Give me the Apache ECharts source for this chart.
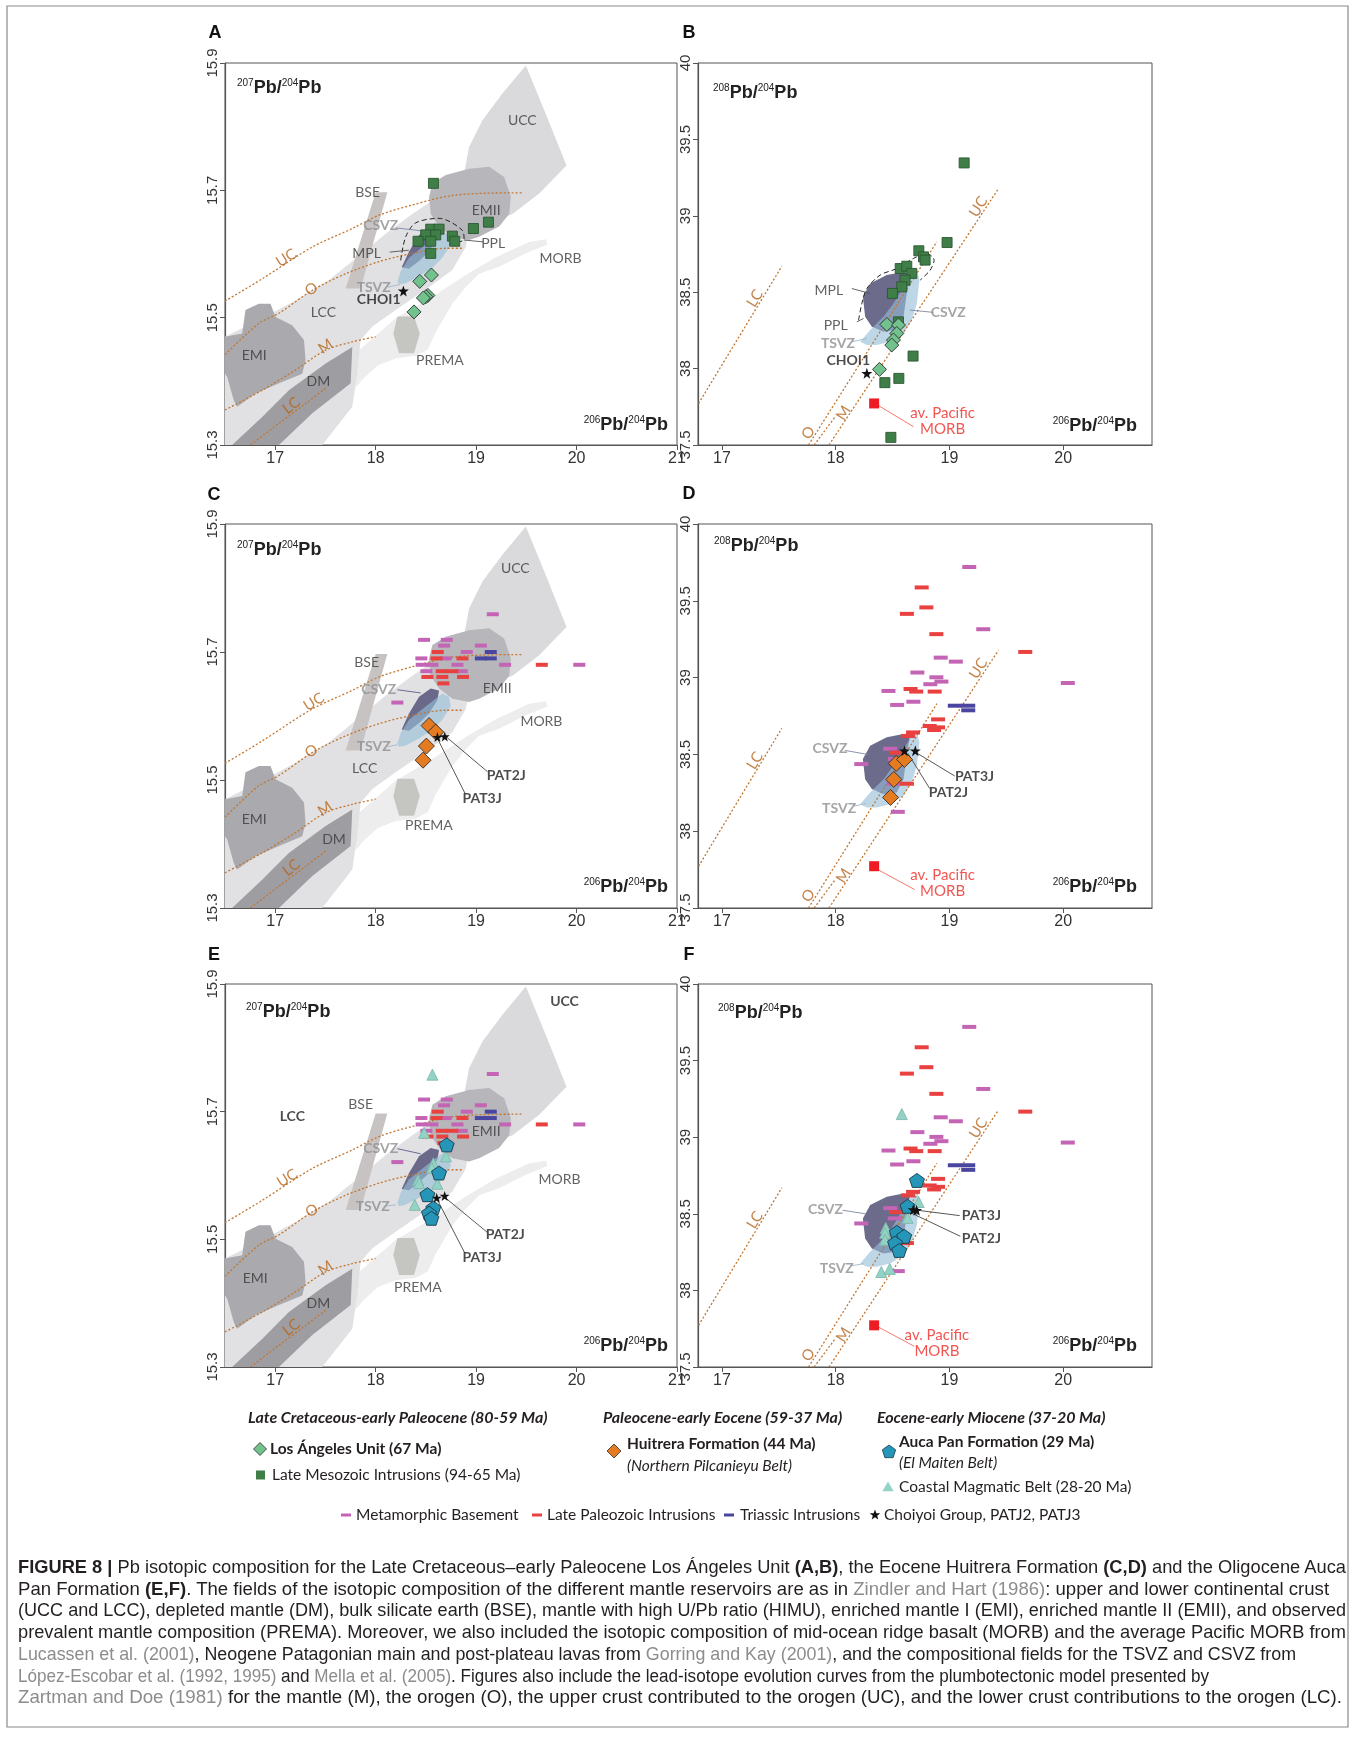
<!DOCTYPE html>
<html>
<head>
<meta charset="UTF-8">
<title>FIGURE 8 | Pb isotopic composition</title>
<script src="https://cdn.jsdelivr.net/npm/echarts@6.0.0/dist/echarts.min.js"></script>
<style>
  body { margin: 0; background: #fff; }
  #wrap { position: relative; width: 1360px; height: 1739px; }
  #chart { position: absolute; left: 0; top: 0; width: 1360px; height: 1739px; }
  #caption { position: absolute; left: 18px; top: 1556px; font-family: "Liberation Sans", Arial, sans-serif; color: #231f20; line-height: 21.7px; white-space: nowrap; }
  #caption .ln { display: inline-block; transform-origin: 0 50%; }
  #caption .ref { color: #8c8c8c; }
</style>
</head>
<body>
<div id="wrap">
  <div id="chart"></div>
  <div id="caption"></div>
</div>
<script>
// axis ranges and ticks
var xRange207 = [16.5, 21], yRange207 = [15.3, 15.9];
var xRange208 = [16.79, 20.78], yRange208 = [37.5, 40];
var xTicks207 = [17, 18, 19, 20, 21], yTicks207 = [15.3, 15.5, 15.7, 15.9];
var xTicks208 = [17, 18, 19, 20], yTicks208 = [37.5, 38, 38.5, 39, 39.5, 40];

// reservoir fields, 207Pb/204Pb vs 206Pb/204Pb
var fMORB = [[17.834,15.449],[18.199,15.499],[18.565,15.533],[18.897,15.567],[19.196,15.595],[19.528,15.619],[19.694,15.623],[19.711,15.615],[19.495,15.601],[19.229,15.580],[19.030,15.569],[18.897,15.548],[18.764,15.522],[18.60,15.478],[18.52,15.450],[18.40,15.440],[18.20,15.436],[18.02,15.425],[17.88,15.405],[17.80,15.39]];
var fLCC = [[16.5,15.470],[16.870,15.499],[17.203,15.527],[17.535,15.559],[17.867,15.601],[18.100,15.632],[18.365,15.663],[18.565,15.684],[18.764,15.697],[18.930,15.700],[18.947,15.653],[18.897,15.611],[18.764,15.575],[18.532,15.548],[18.199,15.512],[17.967,15.486],[17.850,15.465],[17.817,15.412],[17.767,15.360],[17.468,15.3],[16.5,15.3]];
var fUCC = [[18.880,15.726],[18.930,15.768],[19.063,15.810],[19.262,15.852],[19.495,15.896],[19.694,15.820],[19.900,15.739],[19.628,15.695],[19.362,15.663],[19.030,15.643],[18.880,15.684]];
var fEMII = [[18.565,15.711],[18.698,15.724],[18.930,15.734],[19.130,15.737],[19.279,15.721],[19.346,15.690],[19.329,15.663],[19.229,15.643],[19.030,15.627],[18.930,15.622],[18.764,15.627],[18.631,15.643],[18.548,15.663],[18.532,15.690]];
var fEMI = [[16.5,15.470],[16.671,15.475],[16.704,15.512],[16.837,15.522],[16.953,15.522],[17.003,15.501],[17.169,15.488],[17.286,15.465],[17.302,15.433],[17.269,15.412],[17.037,15.397],[16.804,15.381],[16.621,15.360],[16.588,15.370],[16.522,15.407],[16.5,15.412]];
var fDM = [[16.571,15.3],[17.037,15.3],[17.369,15.350],[17.751,15.397],[17.767,15.454],[17.502,15.428],[17.136,15.386],[16.870,15.344]];
var fBSE = [[18.0,15.697],[18.116,15.697],[17.85,15.546],[17.701,15.546]];
var fPREMA = [[18.216,15.502],[18.382,15.502],[18.439,15.475],[18.382,15.444],[18.233,15.444],[18.176,15.475]];
var fCSVZ207 = [[18.259,15.579],[18.332,15.604],[18.432,15.630],[18.548,15.643],[18.631,15.640],[18.615,15.625],[18.532,15.604],[18.432,15.589],[18.332,15.577]];
var fTSVZ207 = [[18.216,15.557],[18.249,15.573],[18.332,15.594],[18.498,15.615],[18.664,15.635],[18.731,15.630],[18.748,15.615],[18.664,15.594],[18.565,15.578],[18.432,15.565],[18.299,15.554],[18.233,15.552]];
// fields, 208Pb/204Pb vs 206Pb/204Pb
var fCSVZ208 = [[18.239,38.470],[18.303,38.557],[18.449,38.612],[18.596,38.633],[18.654,38.622],[18.625,38.492],[18.596,38.339],[18.537,38.252],[18.420,38.241],[18.318,38.274],[18.259,38.339]];
var fTSVZ208 = [[18.215,38.176],[18.303,38.252],[18.420,38.339],[18.508,38.426],[18.596,38.535],[18.669,38.622],[18.713,38.644],[18.736,38.579],[18.713,38.426],[18.669,38.317],[18.596,38.230],[18.479,38.176],[18.362,38.154],[18.274,38.154]];
var pplA = [[18.249,15.590],[18.299,15.627],[18.399,15.649],[18.631,15.656],[18.864,15.637],[18.880,15.623],[18.731,15.616]];
var pplB = [[18.201,38.317],[18.230,38.426],[18.274,38.524],[18.391,38.612],[18.537,38.655],[18.684,38.721],[18.801,38.753],[18.865,38.710],[18.83,38.644],[18.742,38.579]];

// Zartman & Doe evolution curves
var curveUC207 = [[16.5,15.526],[16.870,15.561],[17.369,15.611],[17.767,15.640],[18.033,15.661],[18.365,15.677],[18.764,15.692],[19.362,15.696],[19.462,15.696]];
var curveO207 = [[16.5,15.442],[16.837,15.491],[17.037,15.507],[17.369,15.543],[17.701,15.569],[18.033,15.588],[18.365,15.601],[18.698,15.609],[18.864,15.609]];
var curveM207 = [[16.5,15.355],[16.870,15.386],[17.203,15.418],[17.502,15.449],[17.767,15.462],[18.0,15.470]];
var curveLC207 = [[16.754,15.3],[17.037,15.334],[17.302,15.365],[17.518,15.391]];
var lineLC208 = [[16.795,37.772],[17.527,38.67]];
var lineO208 = [[17.761,37.5],[18.889,38.83]];
var lineO2208 = [[17.811,37.5],[17.996,37.685]];
var lineUC208 = [[17.941,37.5],[19.431,39.178]];

// samples
var lateMesoA = [[18.575,15.711],[19.123,15.650],[18.973,15.640],[18.548,15.639],[18.631,15.639],[18.498,15.630],[18.598,15.630],[18.764,15.628],[18.422,15.620],[18.548,15.620],[18.787,15.620],[18.548,15.601]];
var lateMesoB = [[19.129,39.346],[18.979,38.825],[18.731,38.771],[18.772,38.731],[18.786,38.710],[18.567,38.655],[18.625,38.670],[18.669,38.623],[18.61,38.579],[18.581,38.535],[18.499,38.492],[18.552,38.306],[18.68,38.082],[18.555,37.936],[18.432,37.908],[18.485,37.55]];
var losAngelesA = [[18.555,15.567],[18.439,15.557],[18.52,15.535],[18.50,15.533],[18.475,15.531],[18.382,15.509]];
var losAngelesB = [[18.45,38.289],[18.552,38.285],[18.537,38.23],[18.508,38.187],[18.493,38.154],[18.385,37.995]];
var choiA = [[18.276,15.542]], choiB = [[18.274,37.969]];
var huitreraC = [[18.532,15.585],[18.598,15.575],[18.505,15.553],[18.472,15.531]];
var huitreraD = [[18.532,38.441],[18.605,38.467],[18.511,38.337],[18.482,38.22]];
var patC = [[18.615,15.567],[18.688,15.568]], patD = [[18.605,38.524],[18.700,38.524]];
var patE = [[18.608,15.565],[18.687,15.568]], patF = [[18.682,38.527],[18.711,38.523]];
var aucaE = [[18.707,15.648],[18.631,15.604],[18.515,15.570],[18.574,15.549],[18.531,15.541],[18.555,15.533]];
var aucaF = [[18.714,38.718],[18.632,38.549],[18.537,38.379],[18.602,38.353],[18.522,38.309],[18.558,38.261]];
var coastalE = [[18.565,15.758],[18.482,15.667],[18.700,15.630],[18.574,15.619],[18.560,15.612],[18.422,15.593],[18.432,15.588],[18.614,15.587],[18.389,15.554]];
var coastalF = [[18.581,39.151],[18.729,38.577],[18.632,38.473],[18.44,38.407],[18.434,38.375],[18.434,38.331],[18.401,38.12],[18.475,38.14]];
var pacificMORB = [[18.338,37.772]];
var metaBase207 = [[19.166,15.759],[18.482,15.719],[18.708,15.719],[18.681,15.710],[19.047,15.710],[18.907,15.700],[18.455,15.690],[18.698,15.690],[18.458,15.680],[18.565,15.680],[18.814,15.680],[19.289,15.680],[20.027,15.680],[18.505,15.670],[18.857,15.670],[18.216,15.621]];
var latePaleo207 = [[18.618,15.700],[18.605,15.690],[18.864,15.690],[18.658,15.670],[18.764,15.670],[18.515,15.661],[18.664,15.661],[18.870,15.661],[18.674,15.651],[19.654,15.680]];
var triassic207 = [[19.146,15.700],[19.047,15.690],[19.146,15.690]];
var metaBase208 = [[19.174,39.720],[19.297,39.315],[18.923,39.130],[19.056,39.104],[18.718,39.033],[18.885,39.002],[18.929,38.974],[18.832,38.957],[18.464,38.913],[18.683,38.843],[18.540,38.822],[20.040,38.965],[18.479,38.537],[18.52,38.47],[18.225,38.437],[18.508,38.309],[18.546,38.126]];
var latePaleo208 = [[18.756,39.587],[18.797,39.457],[18.626,39.415],[18.885,39.283],[19.666,39.167],[18.658,38.926],[18.708,38.909],[18.870,38.909],[18.900,38.728],[18.826,38.685],[18.900,38.676],[18.865,38.659],[18.680,38.643],[18.635,38.620],[18.532,38.511],[18.626,38.309]];
var triassic208 = [[19.047,38.817],[19.165,38.817],[19.165,38.787]];

// text labels: x, y, text, style, rotation
var curveLabels208 = [[17.29,38.46,'LC','c',58],[19.255,39.06,'UC','c',58],[17.76,37.58,'O','c',58],[18.07,37.71,'M','c',58]];
var labelsA = [[19.46,15.810,'UCC','n'],[17.92,15.697,'BSE','n'],[19.10,15.669,'EMII','n'],[18.05,15.645,'CSVZ','g'],[17.91,15.601,'MPL','n'],[19.17,15.617,'PPL','n'],[19.84,15.593,'MORB','n'],[17.98,15.548,'TSVZ','g'],[18.03,15.528,'CHOI1','b'],[17.48,15.508,'LCC','n'],[16.79,15.440,'EMI','n'],[17.43,15.399,'DM','n'],[18.64,15.432,'PREMA','n'],[17.11,15.594,'UC','c',32],[17.36,15.545,'O','c',35],[17.50,15.455,'M','c',34],[17.16,15.362,'LC','c',38]];
var labelsB = [[17.94,38.514,'MPL','n'],[18.00,38.285,'PPL','n'],[18.02,38.165,'TSVZ','g'],[18.99,38.368,'CSVZ','g'],[18.11,38.05,'CHOI1','b'],[18.94,37.711,'av. Pacific','r'],[18.94,37.602,'MORB','r']].concat(curveLabels208);
var labelsC = [[19.39,15.831,'UCC','n'],[17.91,15.683,'BSE','n'],[18.03,15.642,'CSVZ','g'],[19.21,15.643,'EMII','n'],[19.65,15.592,'MORB','n'],[17.98,15.552,'TSVZ','g'],[17.89,15.518,'LCC','n'],[16.79,15.439,'EMI','n'],[17.585,15.407,'DM','n'],[18.53,15.429,'PREMA','n'],[19.30,15.507,'PAT2J','b'],[19.06,15.471,'PAT3J','b'],[17.385,15.622,'UC','c',32],[17.36,15.545,'O','c',35],[17.495,15.455,'M','c',34],[17.16,15.363,'LC','c',38]];
var labelsD = [[17.95,38.537,'CSVZ','g'],[18.03,38.148,'TSVZ','g'],[19.22,38.359,'PAT3J','b'],[18.99,38.254,'PAT2J','b'],[18.94,37.717,'av. Pacific','r'],[18.94,37.609,'MORB','r']].concat(curveLabels208);
var labelsE = [[19.88,15.873,'UCC','b'],[17.17,15.693,'LCC','b'],[17.85,15.711,'BSE','n'],[19.10,15.669,'EMII','n'],[18.05,15.642,'CSVZ','g'],[19.83,15.593,'MORB','n'],[17.97,15.551,'TSVZ','g'],[16.80,15.439,'EMI','n'],[17.43,15.400,'DM','n'],[18.42,15.425,'PREMA','n'],[19.29,15.507,'PAT2J','b'],[19.06,15.472,'PAT3J','b'],[17.12,15.596,'UC','c',32],[17.365,15.545,'O','c',35],[17.50,15.455,'M','c',34],[17.16,15.362,'LC','c',38]];
var labelsF = [[17.91,38.527,'CSVZ','g'],[18.01,38.144,'TSVZ','g'],[19.28,38.488,'PAT3J','b'],[19.28,38.342,'PAT2J','b'],[18.89,37.711,'av. Pacific','r'],[18.89,37.602,'MORB','r']].concat(curveLabels208);

// leader lines: x1, y1, x2, y2, colour
var leadersA = [[18.20,15.641,18.48,15.636,'#7d88a6'],[18.14,15.603,18.33,15.606,'#555'],[19.07,15.619,18.88,15.622,'#555'],[18.12,15.548,18.24,15.552,'#9fb8cc']];
var leadersB = [[18.142,38.524,18.303,38.492,'#555'],[18.186,38.306,18.245,38.328,'#555'],[18.142,38.176,18.274,38.197,'#9fb8cc'],[18.859,38.368,18.654,38.383,'#7d88a6'],[18.367,37.762,18.684,37.620,'#f06a60']];
var leadersC = [[18.216,15.641,18.449,15.636,'#5d5f8a'],[18.116,15.552,18.216,15.555,'#9fb8cc'],[18.698,15.568,19.113,15.513,'#444'],[18.618,15.564,18.890,15.479,'#444']];
var leadersD = [[18.081,38.526,18.281,38.50,'#7d88a6'],[18.155,38.163,18.267,38.18,'#9fb8cc'],[18.708,38.511,19.047,38.359,'#444'],[18.635,38.507,18.826,38.278,'#444'],[18.370,37.750,18.694,37.620,'#f06a60']];
var leadersE = [[18.216,15.642,18.448,15.634,'#5d5f8a'],[18.100,15.552,18.200,15.554,'#9fb8cc'],[18.687,15.566,19.111,15.511,'#444'],[18.614,15.562,18.886,15.479,'#444']];
var leadersF = [[18.061,38.523,18.262,38.50,'#7d88a6'],[18.138,38.161,18.247,38.174,'#9fb8cc'],[18.720,38.523,19.090,38.488,'#444'],[18.661,38.506,19.096,38.353,'#444'],[18.375,37.761,18.691,37.635,'#f06a60']];

var captionLines = [
  '**FIGURE 8 |** Pb isotopic composition for the Late Cretaceous–early Paleocene Los Ángeles Unit **(A,B)**, the Eocene Huitrera Formation **(C,D)** and the Oligocene Auca',
  'Pan Formation **(E,F)**. The fields of the isotopic composition of the different mantle reservoirs are as in [[Zindler and Hart (1986)]]: upper and lower continental crust',
  '(UCC and LCC), depleted mantle (DM), bulk silicate earth (BSE), mantle with high U/Pb ratio (HIMU), enriched mantle I (EMI), enriched mantle II (EMII), and observed',
  'prevalent mantle composition (PREMA). Moreover, we also included the isotopic composition of mid-ocean ridge basalt (MORB) and the average Pacific MORB from',
  '[[Lucassen et al. (2001)]], Neogene Patagonian main and post-plateau lavas from [[Gorring and Kay (2001)]], and the compositional fields for the TSVZ and CSVZ from',
  '[[López-Escobar et al. (1992, 1995)]] and [[Mella et al. (2005)]]. Figures also include the lead-isotope evolution curves from the plumbotectonic model presented by',
  '[[Zartman and Doe (1981)]] for the mantle (M), the orogen (O), the upper crust contributed to the orogen (UC), and the lower crust contributions to the orogen (LC).'
];
var captionWidths = [1328, 1311, 1328, 1328, 1278, 1191, 1324];

var STAR = 'path://M50 0 L61.8 35.1 L98.6 35.3 L69 57.3 L79.4 92.7 L50 71.5 L20.6 92.7 L31 57.3 L1.4 35.3 L38.2 35.1 Z';
var PENT = 'path://M50 0 L97.6 34.5 L79.4 90.5 L20.6 90.5 L2.4 34.5 Z';

var fields207 = [[fMORB,'#ededee'],[fLCC,'#e1e1e3'],[fUCC,'#dadadd'],[fEMII,'#b6b6bb'],[fEMI,'#a9a9ae'],[fDM,'#9d9da2'],[fBSE,'#c8c3c3'],[fPREMA,'#c5c5c2'],[fCSVZ207,'rgba(96,94,130,0.92)'],[fTSVZ207,'rgba(150,190,216,0.62)']];
var fields208 = [[fCSVZ208,'rgba(96,94,130,0.92)'],[fTSVZ208,'rgba(150,190,216,0.62)']];
var curves207 = [curveUC207, curveO207, curveM207, curveLC207];
var lines208 = [lineLC208, lineO208, lineO2208, lineUC208];

var grids = [
  {left: 225, top: 63, width: 452, height: 382},
  {left: 698, top: 63, width: 454, height: 382},
  {left: 225, top: 524, width: 452, height: 384},
  {left: 698, top: 524, width: 454, height: 384},
  {left: 225, top: 984, width: 452, height: 383},
  {left: 698, top: 984, width: 454, height: 383}
];
var kinds = [207, 208, 207, 208, 207, 208];

function xAxisFor(i) {
  var is7 = kinds[i] === 207;
  var r = is7 ? xRange207 : xRange208, t = is7 ? xTicks207 : xTicks208;
  return {type: 'value', gridIndex: i, min: r[0], max: r[1], splitLine: {show: false},
    axisLine: {onZero: false, lineStyle: {color: '#555', width: 1.2}},
    axisTick: {customValues: t, length: 5, lineStyle: {color: '#555'}},
    axisLabel: {customValues: t, color: '#333', fontSize: 16, fontFamily: 'Liberation Sans', margin: 6}};
}
function yAxisFor(i) {
  var is7 = kinds[i] === 207;
  var r = is7 ? yRange207 : yRange208, t = is7 ? yTicks207 : yTicks208;
  return {type: 'value', gridIndex: i, min: r[0], max: r[1], splitLine: {show: false},
    axisLine: {onZero: false, lineStyle: {color: '#555', width: 1.2}},
    axisTick: {customValues: t, length: 5, lineStyle: {color: '#555'}},
    axisLabel: {customValues: t, color: '#333', fontSize: 15, fontFamily: 'Liberation Sans', rotate: 90, margin: 5}};
}

function fieldSeries(p, list) {
  return {type: 'custom', xAxisIndex: p, yAxisIndex: p, silent: true, z: 1, clip: true,
    data: list.map(function (f, i) { return [f[0][0][0], f[0][0][1], i]; }),
    renderItem: function (params, api) {
      var f = list[api.value(2)];
      return {type: 'polygon', shape: {points: f[0].map(function (pt) { return api.coord(pt); })}, style: {fill: f[1]}};
    }};
}
function curveSeries(p, pts, smooth) {
  return {type: 'line', xAxisIndex: p, yAxisIndex: p, data: pts, symbol: 'none', smooth: smooth ? 0.3 : false,
    silent: true, z: 3, lineStyle: {color: '#c27630', width: 1.3, type: [2, 2]}};
}
function outlineSeries(p, pts) {
  return {type: 'line', xAxisIndex: p, yAxisIndex: p, data: pts, symbol: 'none', smooth: 0.3,
    silent: true, z: 3, lineStyle: {color: '#222', width: 1, type: [5, 3]}};
}
function segSeries(p, segs) {
  return {type: 'custom', xAxisIndex: p, yAxisIndex: p, silent: true, z: 4, clip: true,
    data: segs.map(function (s, i) { return [s[0], s[1], i]; }),
    renderItem: function (params, api) {
      var s = segs[api.value(2)];
      var a = api.coord([s[0], s[1]]), b = api.coord([s[2], s[3]]);
      return {type: 'line', shape: {x1: a[0], y1: a[1], x2: b[0], y2: b[1]}, style: {stroke: s[4], lineWidth: 0.9}};
    }};
}
function markSeries(p, pts, symbol, size, color, border, z) {
  var st = {color: color, opacity: 1};
  if (border) { st.borderColor = border; st.borderWidth = 0.9; }
  return {type: 'scatter', xAxisIndex: p, yAxisIndex: p, data: pts, symbol: symbol, symbolSize: size,
    silent: true, z: z || 6, itemStyle: st};
}
var styleMap = {
  n: {color: '#3a3a3a', fontSize: 14, fontWeight: 'normal'},
  g: {color: '#8f8f8f', fontSize: 14, fontWeight: 'bold'},
  b: {color: '#1e1e1e', fontSize: 14, fontWeight: 'bold'},
  r: {color: '#ee2b25', fontSize: 15, fontWeight: 'normal'},
  c: {color: '#b5651d', fontSize: 15, fontWeight: 'normal'}
};
function labelSeries(p, arr) {
  return {type: 'scatter', xAxisIndex: p, yAxisIndex: p, symbolSize: 1, silent: true, z: 9,
    itemStyle: {color: 'rgba(0,0,0,0)'},
    data: arr.map(function (l) {
      var s = styleMap[l[3]];
      return {value: [l[0], l[1]], name: l[2], label: {show: true, position: 'inside', formatter: '{b}',
        fontFamily: 'Lato', color: s.color, fontSize: s.fontSize, fontWeight: s.fontWeight, rotate: l[4] || 0}};
    })};
}
function dashes(p, m, r, b, w) {
  return [markSeries(p, m, 'rect', [w, 4], '#c464b5', null, 5),
          markSeries(p, r, 'rect', [w, 4], '#e8413f', null, 5),
          markSeries(p, b, 'rect', [w, 4], '#4a46a0', null, 5)];
}

var series = [];
function base(p) {
  if (kinds[p] === 207) {
    series.push(fieldSeries(p, fields207));
    curves207.forEach(function (c) { series.push(curveSeries(p, c, true)); });
  } else {
    series.push(fieldSeries(p, fields208));
    lines208.forEach(function (c) { series.push(curveSeries(p, c, false)); });
    series.push(markSeries(p, pacificMORB, 'rect', 10, '#ee1c24', null, 6));
  }
}
// A
base(0);
series.push(outlineSeries(0, pplA), segSeries(0, leadersA));
series.push(markSeries(0, lateMesoA, 'rect', 10, '#3f7e47', '#2b5732', 6));
series.push(markSeries(0, losAngelesA, 'diamond', 14, '#72c28d', '#2d2d2d', 7));
series.push(markSeries(0, choiA, STAR, 11, '#111', null, 8));
series.push(labelSeries(0, labelsA));
// B
base(1);
series.push(outlineSeries(1, pplB), segSeries(1, leadersB));
series.push(markSeries(1, lateMesoB, 'rect', 10, '#3f7e47', '#2b5732', 6));
series.push(markSeries(1, losAngelesB, 'diamond', 14, '#72c28d', '#2d2d2d', 7));
series.push(markSeries(1, choiB, STAR, 11, '#111', null, 8));
series.push(labelSeries(1, labelsB));
// C
base(2);
series.push(segSeries(2, leadersC));
series = series.concat(dashes(2, metaBase207, latePaleo207, triassic207, 12));
series.push(markSeries(2, huitreraC, 'diamond', 16, '#e57b20', '#2d2d2d', 7));
series.push(markSeries(2, patC, STAR, 10, '#111', null, 8));
series.push(labelSeries(2, labelsC));
// D
base(3);
series.push(segSeries(3, leadersD));
series = series.concat(dashes(3, metaBase208, latePaleo208, triassic208, 14));
series.push(markSeries(3, huitreraD, 'diamond', 16, '#e57b20', '#2d2d2d', 7));
series.push(markSeries(3, patD, STAR, 11, '#111', null, 8));
series.push(labelSeries(3, labelsD));
// E
base(4);
series.push(segSeries(4, leadersE));
series = series.concat(dashes(4, metaBase207, latePaleo207, triassic207, 12));
series.push(markSeries(4, coastalE, 'triangle', 11, '#93d3c6', '#7fb8ad', 6));
series.push(markSeries(4, aucaE, PENT, [15, 14], '#2596b8', '#1b3a4a', 7));
series.push(markSeries(4, patE, STAR, 10, '#111', null, 8));
series.push(labelSeries(4, labelsE));
// F
base(5);
series.push(segSeries(5, leadersF));
series = series.concat(dashes(5, metaBase208, latePaleo208, triassic208, 14));
series.push(markSeries(5, coastalF, 'triangle', 11, '#93d3c6', '#7fb8ad', 6));
series.push(markSeries(5, aucaF, PENT, [15, 14], '#2596b8', '#1b3a4a', 7));
series.push(markSeries(5, patF, STAR, 11, '#111', null, 8));
series.push(labelSeries(5, labelsF));

// static graphics: frame, panel letters, axis names, legend
var gfx = [];
gfx.push({type: 'rect', shape: {x: 7, y: 6, width: 1341, height: 1721}, style: {fill: 'none', stroke: '#8a8a8a', lineWidth: 1.2}, z: 0});
[['A', 215, 33], ['B', 689, 33], ['C', 214, 495], ['D', 689, 494], ['E', 214, 955], ['F', 689, 955]].forEach(function (l) {
  gfx.push({type: 'text', x: l[1], y: l[2], style: {text: l[0], font: 'bold 18px "Liberation Sans"', fill: '#111', textAlign: 'center', textVerticalAlign: 'middle', verticalAlign: 'middle'}});
});
function pbName(x, y, sup, align) {
  return {type: 'text', x: x, y: y, z: 60, style: {text: '{s|' + sup + '}{b|Pb/}{s|204}{b|Pb}', textAlign: align,
    textVerticalAlign: 'middle', verticalAlign: 'middle',
    rich: {s: {fontSize: 10, fontFamily: 'Liberation Sans', fill: '#222', verticalAlign: 'top', lineHeight: 12},
           b: {fontSize: 18, fontWeight: 'bold', fontFamily: 'Liberation Sans', fill: '#222', lineHeight: 20}}}};
}
gfx.push(pbName(237, 88, '207', 'left'), pbName(668, 425, '206', 'right'));
gfx.push(pbName(713, 93, '208', 'left'), pbName(1137, 426, '206', 'right'));
gfx.push(pbName(237, 550, '207', 'left'), pbName(668, 887, '206', 'right'));
gfx.push(pbName(714, 546, '208', 'left'), pbName(1137, 887, '206', 'right'));
gfx.push(pbName(246, 1012, '207', 'left'), pbName(668, 1346, '206', 'right'));
gfx.push(pbName(718, 1013, '208', 'left'), pbName(1137, 1346, '206', 'right'));

function legText(x, y, t, st, size) {
  return {type: 'text', x: x, y: y, style: {text: t, font: (st || '') + ' ' + (size || 15.5) + 'px Lato', fill: '#231f20', textAlign: 'left', textVerticalAlign: 'middle', verticalAlign: 'middle'}};
}
function regular(cx, cy, r, n, rot, fill, stroke) {
  var pts = [];
  for (var k = 0; k < n; k++) { var a = rot + k * 2 * Math.PI / n; pts.push([cx + r * Math.cos(a), cy + r * Math.sin(a)]); }
  return {type: 'polygon', shape: {points: pts}, style: {fill: fill, stroke: stroke || null, lineWidth: 0.8}};
}
function starAt(cx, cy, r) {
  var pts = [];
  for (var k = 0; k < 10; k++) { var a = -Math.PI / 2 + k * Math.PI / 5, rr = k % 2 ? r * 0.42 : r; pts.push([cx + rr * Math.cos(a), cy + rr * Math.sin(a)]); }
  return {type: 'polygon', shape: {points: pts}, style: {fill: '#111'}};
}
gfx.push(legText(248, 1418, 'Late Cretaceous-early Paleocene (80-59 Ma)', 'italic bold', 16));
gfx.push(legText(603, 1418, 'Paleocene-early Eocene (59-37 Ma)', 'italic bold', 16));
gfx.push(legText(877, 1418, 'Eocene-early Miocene (37-20 Ma)', 'italic bold', 16));
gfx.push(regular(260, 1449, 6.5, 4, 0, '#72c28d', '#2d2d2d'), legText(270, 1449, 'Los Ángeles Unit (67 Ma)', 'bold'));
gfx.push({type: 'rect', shape: {x: 256, y: 1470.5, width: 9, height: 9}, style: {fill: '#3f7e47'}}, legText(272, 1475, 'Late Mesozoic Intrusions (94-65 Ma)'));
gfx.push(regular(614, 1451, 7, 4, 0, '#e57b20', '#2d2d2d'), legText(627, 1444, 'Huitrera Formation (44 Ma)', 'bold'), legText(627, 1466, '(Northern Pilcanieyu Belt)', 'italic'));
gfx.push(regular(889, 1452, 7, 5, -Math.PI / 2, '#2596b8', '#1b3a4a'), legText(899, 1442, 'Auca Pan Formation (29 Ma)', 'bold'), legText(899, 1463, '(El Maiten Belt)', 'italic'));
gfx.push(regular(888, 1488, 6.5, 3, -Math.PI / 2, '#93d3c6'), legText(899, 1487, 'Coastal Magmatic Belt (28-20 Ma)'));
gfx.push({type: 'rect', shape: {x: 341, y: 1513.5, width: 10, height: 3}, style: {fill: '#c464b5'}}, legText(356, 1515, 'Metamorphic Basement'));
gfx.push({type: 'rect', shape: {x: 532, y: 1513.5, width: 10, height: 3}, style: {fill: '#e8413f'}}, legText(547, 1515, 'Late Paleozoic Intrusions'));
gfx.push({type: 'rect', shape: {x: 724, y: 1513.5, width: 10, height: 3}, style: {fill: '#4a46a0'}}, legText(740, 1515, 'Triassic Intrusions'));
gfx.push(starAt(875, 1515, 5.5), legText(884, 1515, 'Choiyoi Group, PATJ2, PATJ3'));

var chart = echarts.init(document.getElementById('chart'), null, {renderer: 'canvas'});
chart.setOption({
  animation: false,
  backgroundColor: '#fff',
  grid: grids.map(function (g) { return {left: g.left, top: g.top, width: g.width, height: g.height, show: true, borderColor: '#555', borderWidth: 1, backgroundColor: 'transparent'}; }),
  xAxis: grids.map(function (g, i) { return xAxisFor(i); }),
  yAxis: grids.map(function (g, i) { return yAxisFor(i); }),
  series: series,
  graphic: {elements: gfx}
});

// caption: font sized on the first line, each line then stretched to its width in the figure
var cap = document.getElementById('caption');
cap.innerHTML = captionLines.map(function (l) {
  var h = l.replace(/\*\*(.+?)\*\*/g, '<b>$1</b>').replace(/\[\[(.+?)\]\]/g, '<span class="ref">$1</span>');
  return '<div><span class="ln">' + h + '</span></div>';
}).join('');
cap.style.fontSize = '17px';
var spans = cap.querySelectorAll('.ln');
var w0 = spans[0].getBoundingClientRect().width;
cap.style.fontSize = (17 * captionWidths[0] / w0).toFixed(2) + 'px';
for (var i = 0; i < spans.length; i++) {
  var wi = spans[i].getBoundingClientRect().width;
  var k = Math.max(0.9, Math.min(1.1, captionWidths[i] / wi));
  spans[i].style.transform = 'scaleX(' + k.toFixed(4) + ')';
}
</script>
</body>
</html>
